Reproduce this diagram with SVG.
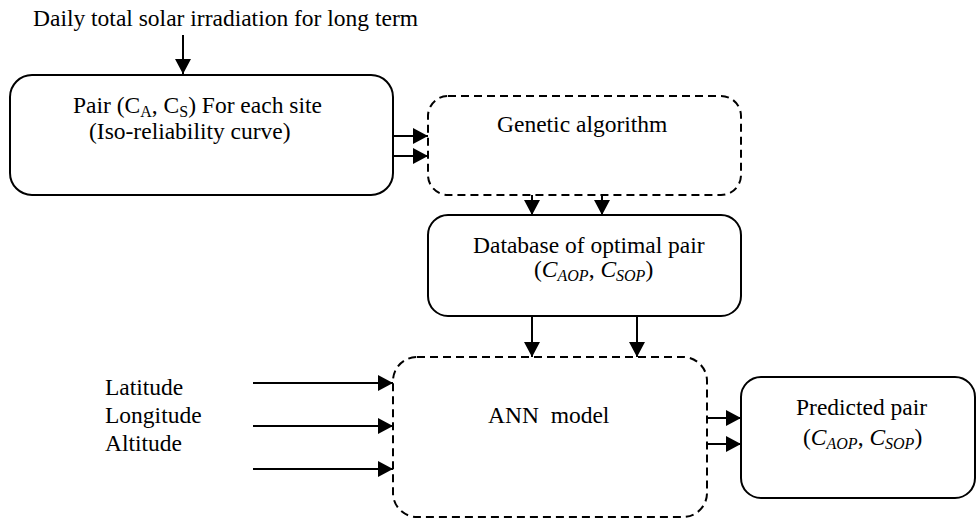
<svg xmlns="http://www.w3.org/2000/svg" width="976" height="519" viewBox="0 0 976 519">
<defs>
<marker id="ah" markerUnits="userSpaceOnUse" markerWidth="16" markerHeight="16" refX="15" refY="8" orient="auto">
<path d="M0,0 L15,8 L0,16 Z" fill="#000"/>
</marker>
</defs>
<style>
text{font-size:23.5px;fill:#000}
.sub{font-size:16px;baseline-shift:-4px}
.it{font-style:italic}
.box{fill:#fff;stroke:#000;stroke-width:2}
.dash{stroke-dasharray:8 5}
.c{stroke:#000;stroke-width:2;fill:none;marker-end:url(#ah)}
</style>
<rect width="976" height="519" fill="#fff"/>
<g font-family="'Liberation Serif', 'Times New Roman', 'DejaVu Serif', serif">
<text x="33" y="26">Daily total solar irradiation for long term</text>
<g id="pair">
<rect class="box" x="10" y="75" width="383" height="120" rx="22"/>
<text x="73" y="113">Pair (C<tspan class="sub">A</tspan>, C<tspan class="sub">S</tspan>) For each site</text>
<text x="89" y="139">(Iso-reliability curve)</text>
</g>
<g id="ga">
<rect class="box dash" x="428" y="96" width="313" height="99" rx="20"/>
<text x="497" y="132">Genetic algorithm</text>
</g>
<g id="db">
<rect class="box" x="428" y="215" width="313" height="101" rx="20"/>
<text x="473" y="253">Database of optimal pair</text>
<text x="534" y="277">(<tspan class="it">C</tspan><tspan class="sub it">AOP</tspan>, <tspan class="it">C</tspan><tspan class="sub it">SOP</tspan>)</text>
</g>
<g id="ann">
<rect class="box dash" x="393" y="357" width="314" height="160" rx="24"/>
<text x="488" y="423" xml:space="preserve">ANN  model</text>
</g>
<g id="pred">
<rect class="box" x="741" y="377" width="234" height="121" rx="20"/>
<text x="796" y="415">Predicted pair</text>
<text x="803" y="445">(<tspan class="it">C</tspan><tspan class="sub it">AOP</tspan>, <tspan class="it">C</tspan><tspan class="sub it">SOP</tspan>)</text>
</g>
<g id="inputs">
<text x="105" y="395">Latitude</text>
<text x="105" y="423">Longitude</text>
<text x="105" y="451">Altitude</text>
</g>
</g>
<g id="connectors">
<line class="c" x1="183" y1="35" x2="183" y2="74"/>
<line class="c" x1="393" y1="136" x2="428" y2="136"/>
<line class="c" x1="393" y1="156" x2="428" y2="156"/>
<line class="c" x1="532" y1="195" x2="532" y2="215"/>
<line class="c" x1="602" y1="195" x2="602" y2="215"/>
<line class="c" x1="532" y1="316" x2="532" y2="357"/>
<line class="c" x1="637" y1="316" x2="637" y2="357"/>
<line class="c" x1="253" y1="383" x2="393" y2="383"/>
<line class="c" x1="253" y1="426" x2="393" y2="426"/>
<line class="c" x1="253" y1="469" x2="393" y2="469"/>
<line class="c" x1="707" y1="418" x2="741" y2="418"/>
<line class="c" x1="707" y1="444" x2="741" y2="444"/>
</g>
</svg>
